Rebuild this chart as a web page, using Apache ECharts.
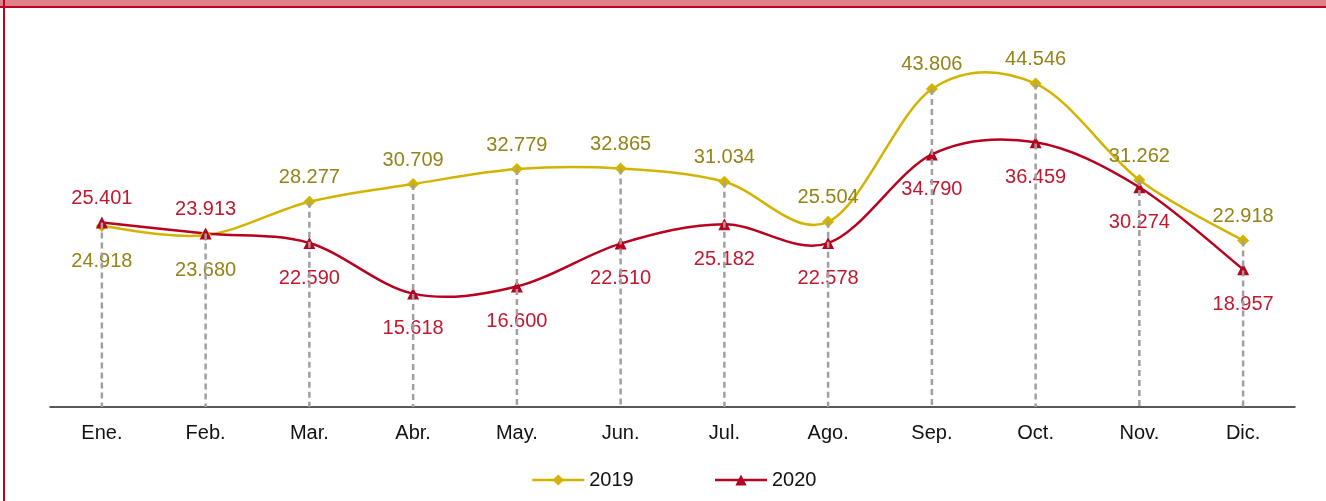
<!DOCTYPE html>
<html>
<head>
<meta charset="utf-8">
<script src="https://cdn.jsdelivr.net/npm/echarts@6/dist/echarts.min.js"></script>
<style>
  html, body { margin: 0; padding: 0; background: #fff; }
  .wrap { position: relative; width: 1326px; height: 501px; overflow: hidden; }
  .topband { position: absolute; left: 0; top: 0; width: 1326px; height: 6px; background: #de8189; border-bottom: 2px solid #c00020; z-index: 2; }
  .leftline { position: absolute; left: 3px; top: 0; width: 2px; height: 501px; background: #c00020; z-index: 3; }
  #chart { position: absolute; left: 0; top: 0; width: 1326px; height: 501px; }
</style>
</head>
<body>
<div class="wrap">
  <div id="chart"></div>
  <div class="topband"></div>
  <div class="leftline"></div>
</div>
<script>
const months = ['Ene.', 'Feb.', 'Mar.', 'Abr.', 'May.', 'Jun.', 'Jul.', 'Ago.', 'Sep.', 'Oct.', 'Nov.', 'Dic.']
const values2019 = [24.918, 23.680, 28.277, 30.709, 32.779, 32.865, 31.034, 25.504, 43.806, 44.546, 31.262, 22.918]
const values2020 = [25.401, 23.913, 22.590, 15.618, 16.600, 22.510, 25.182, 22.578, 34.790, 36.459, 30.274, 18.957]
// where each value label sits
const labelPos2019 = ['bottom', 'bottom', 'top', 'top', 'top', 'top', 'top', 'top', 'top', 'top', 'top', 'top']
const labelPos2020 = ['top', 'top', 'bottom', 'bottom', 'bottom', 'bottom', 'bottom', 'bottom', 'bottom', 'bottom', 'bottom', 'bottom']

const color2019 = '#d2b400', color2020 = '#b8001f'

const chart = echarts.init(document.getElementById('chart'))

const fmt = v => v.toFixed(3)
const toItems = (vals, pos) => vals.map((v, i) => ({
  value: v,
  label: { position: pos[i], distance: pos[i] === 'top' ? 8 : 19 }
}))

const dropData = months.map((m, i) => [i, Math.max(values2019[i], values2020[i])])

// excel-like smoothed curve (catmull-rom), one bezier per segment
function curveSeries(vals, color, z) {
  return {
    type: 'custom',
    z,
    silent: true,
    renderItem: (params, api) => {
      const i = params.dataIndex
      const p = j => api.coord([Math.max(0, Math.min(vals.length - 1, j)), vals[Math.max(0, Math.min(vals.length - 1, j))]])
      const p0 = p(i - 1), p1 = p(i), p2 = p(i + 1), p3 = p(i + 2)
      return {
        type: 'bezierCurve',
        shape: {
          x1: p1[0], y1: p1[1], x2: p2[0], y2: p2[1],
          cpx1: p1[0] + (p2[0] - p0[0]) / 6, cpy1: p1[1] + (p2[1] - p0[1]) / 6,
          cpx2: p2[0] - (p3[0] - p1[0]) / 6, cpy2: p2[1] - (p3[1] - p1[1]) / 6
        },
        style: { stroke: color, lineWidth: 2.5, fill: null, lineCap: 'round' }
      }
    },
    data: vals.slice(0, -1).map((v, i) => [i, v])
  }
}

const option = {
  animation: false,
  textStyle: { fontFamily: 'Liberation Sans, Arial, sans-serif' },
  grid: { left: 50, right: 31, top: 44, bottom: 94 },
  legend: {
    data: [
      { name: '2019', lineStyle: { color: color2019, width: 2.5, opacity: 1 } },
      { name: '2020', lineStyle: { color: color2020, width: 2.5, opacity: 1 } }
    ],
    left: 526,
    top: 465,
    itemWidth: 52,
    itemHeight: 14,
    itemGap: 80,
    textStyle: { fontSize: 20, color: '#111', fontFamily: 'Liberation Sans, Arial, sans-serif' }
  },
  xAxis: {
    type: 'category',
    data: months,
    boundaryGap: true,
    axisLine: { lineStyle: { color: '#222', width: 1.5 } },
    axisTick: { show: false },
    axisLabel: { color: '#111', fontSize: 20, margin: 16 }
  },
  yAxis: {
    type: 'value',
    min: 0,
    max: 50,
    show: false,
    splitLine: { show: false }
  },
  series: [
    curveSeries(values2019, color2019, 1),
    curveSeries(values2020, color2020, 2),
    {
      name: '2019',
      type: 'line',
      symbol: 'diamond',
      symbolSize: 12,
      z: 3,
      itemStyle: { color: color2019 },
      lineStyle: { color: color2019, width: 2.5, opacity: 0 },
      label: {
        show: true,
        fontSize: 20,
        color: '#948318',
        formatter: p => fmt(p.value)
      },
      data: toItems(values2019, labelPos2019)
    },
    {
      name: '2020',
      type: 'line',
      symbol: 'triangle',
      symbolSize: 12,
      z: 4,
      itemStyle: { color: color2020 },
      lineStyle: { color: color2020, width: 2.5, opacity: 0 },
      label: {
        show: true,
        fontSize: 20,
        color: '#c0182f',
        formatter: p => fmt(p.value)
      },
      data: toItems(values2020, labelPos2020)
    },
    {
      name: 'drop',
      type: 'custom',
      z: 10,
      silent: true,
      renderItem: (params, api) => {
        const top = api.coord([api.value(0), api.value(1)])
        const bottom = api.coord([api.value(0), 0])
        return {
          type: 'line',
          shape: { x1: top[0], y1: top[1], x2: bottom[0], y2: bottom[1] },
          style: { stroke: '#a0a0a0', lineWidth: 2.5, lineDash: [6, 4] }
        }
      },
      data: dropData
    }
  ]
}

chart.setOption(option)
</script>
</body>
</html>
